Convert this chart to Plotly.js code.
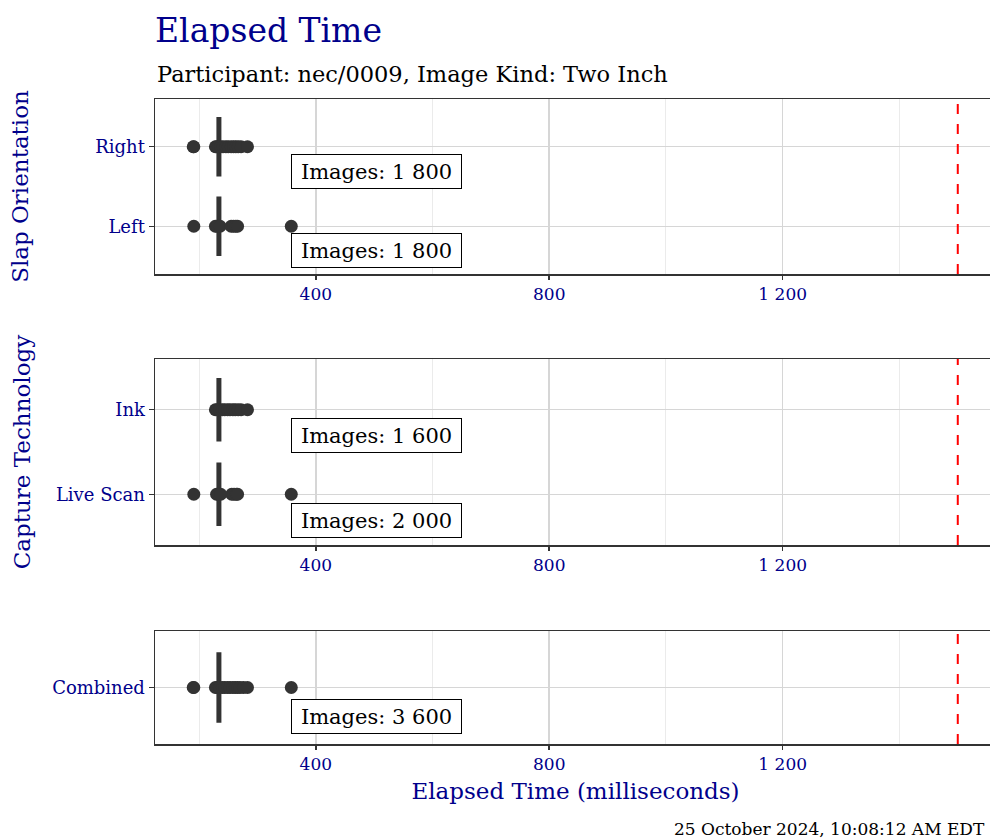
<!DOCTYPE html>
<html>
<head>
<meta charset="utf-8">
<script src="https://cdn.plot.ly/plotly-3.0.1.min.js"></script>
<style>
html,body{margin:0;padding:0;overflow:hidden;background:#fff;}
#chart{width:1010px;height:839px;}
</style>
</head>
<body>
<div id="chart"></div>
<script>
// ---- data ----
const slapCategories = ['Left', 'Right'];
const techCategories = ['Live Scan', 'Ink'];
const combinedCategories = ['Combined'];

// median (box collapsed: q1 = median = q3)
const medianRight = 234;
const medianLeft = 234;
const medianInk = 234;
const medianLive = 234;
const medianCombined = 234;

// outlier points (milliseconds)
const outRight = [190, 191, 228, 230, 233, 237, 241, 246, 250, 255, 259, 263, 267, 272, 283];
const outLeft = [191, 228, 231, 236, 255, 259, 263, 266, 358];
const outInk = [228, 231, 235, 240, 244, 249, 253, 258, 262, 267, 272, 283];
const outLive = [191, 230, 233, 237, 256, 260, 264, 266, 358];
const outCombined = [190, 191, 228, 231, 235, 240, 244, 249, 253, 258, 262, 266, 270, 276, 283, 358];

const countLabels = {
  Right: 'Images: 1 800', Left: 'Images: 1 800',
  Ink: 'Images: 1 600', 'Live Scan': 'Images: 2 000',
  Combined: 'Images: 3 600'
};
const labelX = 357;
const thresholdMs = 1500;
const xTickStep = 400;

// ---- styling ----
const FONT = '"DejaVu Serif", serif';
const BLUE = '#00008B';
const DARK = '#333333';
const W = 1010, H = 839;
const L = 155, R = 996;
const px2x = p => (p - L) / (R - L);
const px2y = p => 1 - p / H;

function boxTrace(cat, med, xa, ya) {
  return {
    type: 'box', orientation: 'h',
    y: [cat], q1: [med], median: [med], q3: [med],
    lowerfence: [med], upperfence: [med],
    width: 0.75, boxpoints: false,
    fillcolor: 'white', line: {color: DARK, width: 5},
    xaxis: xa, yaxis: ya, showlegend: false, hoverinfo: 'x+y'
  };
}
function pointsTrace(cat, vals, xa, ya) {
  return {
    type: 'scatter', mode: 'markers',
    x: vals, y: vals.map(() => cat),
    marker: {color: DARK, size: 13},
    xaxis: xa, yaxis: ya, showlegend: false
  };
}

const traces = [
  boxTrace('Right', medianRight, 'x', 'y'), pointsTrace('Right', outRight, 'x', 'y'),
  boxTrace('Left', medianLeft, 'x', 'y'), pointsTrace('Left', outLeft, 'x', 'y'),
  boxTrace('Ink', medianInk, 'x2', 'y2'), pointsTrace('Ink', outInk, 'x2', 'y2'),
  boxTrace('Live Scan', medianLive, 'x2', 'y2'), pointsTrace('Live Scan', outLive, 'x2', 'y2'),
  boxTrace('Combined', medianCombined, 'x3', 'y3'), pointsTrace('Combined', outCombined, 'x3', 'y3')
];

const xRange = [124.5, 1565.5];
function xAxis(anchor, title) {
  const a = {
    anchor: anchor, domain: [0, 1], range: xRange, type: 'linear',
    tick0: 0, dtick: xTickStep, separatethousands: true,
    showgrid: true, gridcolor: '#d6d6d6', gridwidth: 1.5,
    minor: {dtick: xTickStep / 2, tick0: 0, showgrid: true, gridcolor: '#ebebeb', gridwidth: 1, ticks: ''},
    ticks: 'outside', ticklen: 4, tickwidth: 1.5, tickcolor: DARK,
    tickfont: {family: FONT, size: 17, color: BLUE},
    showline: true, mirror: true, linecolor: DARK, linewidth: 1.5,
    zeroline: false, fixedrange: true
  };
  if (title) a.title = {text: title, font: {family: FONT, size: 23, color: BLUE}, standoff: 10};
  return a;
}
function yAxis(anchor, domain, cats, title, standoff) {
  const a = {
    anchor: anchor, domain: domain, type: 'category',
    categoryorder: 'array', categoryarray: cats,
    range: [-0.6, cats.length - 1 + 0.6],
    showgrid: true, gridcolor: '#d6d6d6', gridwidth: 1.5,
    ticks: 'outside', ticklen: 5, tickwidth: 1.5, tickcolor: DARK,
    tickfont: {family: FONT, size: 18, color: BLUE},
    showline: true, mirror: true, linecolor: DARK, linewidth: 1.5,
    zeroline: false, fixedrange: true
  };
  if (title) a.title = {text: title, font: {family: FONT, size: 23, color: BLUE}, standoff: standoff};
  return a;
}

function countAnn(cat, idx, xa, ya) {
  return {
    text: countLabels[cat], x: labelX, y: idx - 0.31, xref: xa, yref: ya,
    xanchor: 'left', yanchor: 'middle', showarrow: false,
    width: 163, height: 27, align: 'center', valign: 'middle',
    font: {family: FONT, size: 21, color: 'black'},
    bgcolor: 'white', bordercolor: 'black', borderwidth: 1, borderpad: 3
  };
}

const annotations = [
  countAnn('Left', 0, 'x', 'y'), countAnn('Right', 1, 'x', 'y'),
  countAnn('Live Scan', 0, 'x2', 'y2'), countAnn('Ink', 1, 'x2', 'y2'),
  countAnn('Combined', 0, 'x3', 'y3'),
  {text: 'Participant: nec/0009, Image Kind: Two Inch', xref: 'paper', yref: 'paper',
   x: 0, y: px2y(74), xanchor: 'left', yanchor: 'middle', showarrow: false,
   font: {family: FONT, size: 22.5, color: 'black'}},
  {text: '25 October 2024, 10:08:12 AM EDT', xref: 'paper', yref: 'paper',
   x: px2x(987), y: px2y(829), xanchor: 'right', yanchor: 'middle', showarrow: false,
   font: {family: FONT, size: 17, color: 'black'}}
];

const shapes = ['', '2', '3'].map(s => ({
  type: 'line', xref: 'x' + s, yref: 'y' + s + ' domain',
  x0: thresholdMs, x1: thresholdMs, y0: 0, y1: 1,
  line: {color: 'red', width: 2, dash: '10px,10px'}
}));

const layout = {
  width: W, height: H,
  margin: {l: L, r: W - R, t: 0, b: 0},
  paper_bgcolor: 'white', plot_bgcolor: 'white',
  separators: '. ',
  font: {family: FONT},
  title: {text: 'Elapsed Time', xref: 'paper', x: 0, xanchor: 'left',
          yref: 'container', y: 1 - 30 / H, yanchor: 'middle',
          font: {family: FONT, size: 33, color: BLUE}},
  xaxis: xAxis('y'),
  xaxis2: xAxis('y2'),
  xaxis3: xAxis('y3', 'Elapsed Time (milliseconds)'),
  yaxis: yAxis('x', [px2y(274), px2y(99)], slapCategories, 'Slap Orientation', 60),
  yaxis2: yAxis('x2', [px2y(545), px2y(359)], techCategories, 'Capture Technology', 19),
  yaxis3: yAxis('x3', [px2y(744), px2y(631)], combinedCategories, null, 0),
  annotations: annotations,
  shapes: shapes,
  showlegend: false
};

Plotly.newPlot('chart', traces, layout, {displayModeBar: false, staticPlot: true});
</script>
</body>
</html>
